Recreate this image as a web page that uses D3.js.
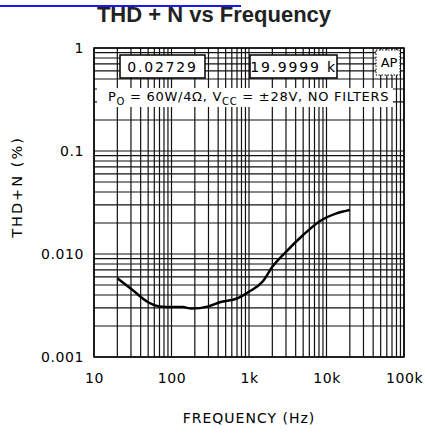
<!DOCTYPE html>
<html>
<head>
<meta charset="utf-8">
<script src="https://cdn.jsdelivr.net/npm/d3@7"></script>
<style>
  body { margin: 0; background: #fff; }
  svg { display: block; }
  text { font-family: "DejaVu Sans", sans-serif; fill: #000; }
</style>
</head>
<body>
<svg id="chart" width="425" height="434"></svg>
<script>
// curve
const freq = [20, 30, 50, 70, 100, 140, 180, 300, 420, 700, 1000, 1500, 2000, 3000, 5000, 8000, 13500, 20000];
const thdn = [0.0058, 0.0046, 0.0034, 0.0031, 0.00305, 0.00305, 0.00295, 0.0031, 0.0034, 0.0037, 0.0043, 0.0054, 0.0075, 0.0105, 0.0153, 0.0206, 0.0248, 0.0267];

const xTickValues = [10, 100, 1000, 10000, 100000];
const xTickLabels = ["10", "100", "1k", "10k", "100k"];
const yTickValues = [0.001, 0.01, 0.1, 1];
const yTickLabels = ["0.001", "0.010", "0.1", "1"];

const readings = ["0.02729", "19.9999 k"];

const svg = d3.select("#chart");

const x = d3.scaleLog().domain([10, 100000]).range([94, 404]);
const y = d3.scaleLog().domain([0.001, 1]).range([357, 48]);

// blue rule + title
svg.append("line")
    .attr("x1", 0).attr("x2", 241)
    .attr("y1", 6).attr("y2", 6)
    .attr("stroke", "#1a1aee").attr("stroke-width", 2);

svg.append("text")
    .attr("x", 214).attr("y", 22)
    .attr("text-anchor", "middle")
    .style("font-family", "'Liberation Sans', Arial, sans-serif")
    .style("font-weight", "bold")
    .style("font-size", "22px")
    .style("fill", "#222")
    .text("THD + N vs Frequency");

// grid
const grid = svg.append("g").attr("stroke", "#111").attr("stroke-width", 1.2);
grid.selectAll(".vx")
    .data(x.ticks())
    .enter().append("line")
    .attr("x1", d => x(d)).attr("x2", d => x(d))
    .attr("y1", y.range()[1]).attr("y2", y.range()[0]);
grid.selectAll(".hy")
    .data(y.ticks())
    .enter().append("line")
    .attr("x1", x.range()[0]).attr("x2", x.range()[1])
    .attr("y1", d => y(d)).attr("y2", d => y(d));

// white band with conditions text
svg.append("rect")
    .attr("x", 97).attr("y", 88).attr("width", 296).attr("height", 19)
    .attr("fill", "#fff");

const cond = svg.append("text")
    .attr("x", 108).attr("y", 101)
    .style("font-size", "13px")
    .style("letter-spacing", "0.72px");
cond.append("tspan").text("P");
cond.append("tspan").attr("dy", 4).style("font-size", "10px").text("O");
cond.append("tspan").attr("dy", -4).text(" = 60W/4\u03A9, V");
cond.append("tspan").attr("dy", 4).style("font-size", "10px").text("CC");
cond.append("tspan").attr("dy", -4).text(" = \u00B128V, NO FILTERS");

// reading boxes
const boxes = [[120, 205], [250, 337]];
boxes.forEach((b, i) => {
    svg.append("rect")
        .attr("x", b[0]).attr("y", 55).attr("width", b[1] - b[0]).attr("height", 23)
        .attr("fill", "#fff").attr("stroke", "#000").attr("stroke-width", 1.5);
    svg.append("text")
        .attr("x", (b[0] + b[1]) / 2).attr("y", 72)
        .attr("text-anchor", "middle")
        .style("font-size", "14px")
        .style("letter-spacing", "1.8px")
        .text(readings[i]);
});

// AP badge
svg.append("rect")
    .attr("x", 376).attr("y", 50).attr("width", 24).attr("height", 25)
    .attr("fill", "#fff").attr("stroke", "#000").attr("stroke-width", 1)
    .attr("stroke-dasharray", "1.5,1.5");
svg.append("text")
    .attr("x", 389).attr("y", 67)
    .attr("text-anchor", "middle")
    .style("font-size", "13px")
    .text("AP");

// frame
svg.append("rect")
    .attr("x", 94).attr("y", 48).attr("width", 310).attr("height", 309)
    .attr("fill", "none").attr("stroke", "#000").attr("stroke-width", 1.5);

// curve
const line = d3.line()
    .x(d => x(d[0]))
    .y(d => y(d[1]))
    .curve(d3.curveMonotoneX);
svg.append("path")
    .datum(freq.map((f, i) => [f, thdn[i]]))
    .attr("d", line)
    .attr("fill", "none")
    .attr("stroke", "#000")
    .attr("stroke-width", 2.5);

// axes
const xAxis = svg.append("g")
    .attr("transform", "translate(0,357)")
    .call(d3.axisBottom(x).tickValues(xTickValues).tickSize(0).tickPadding(16)
        .tickFormat((d, i) => xTickLabels[i]));
const yAxis = svg.append("g")
    .attr("transform", "translate(94,0)")
    .call(d3.axisLeft(y).tickValues(yTickValues).tickSize(0).tickPadding(10)
        .tickFormat((d, i) => yTickLabels[i]));
[xAxis, yAxis].forEach(a => {
    a.select(".domain").remove();
    a.selectAll("text")
        .style("font-family", "'DejaVu Sans', sans-serif")
        .style("font-size", "14px")
        .style("letter-spacing", "0.6px")
        .attr("fill", "#000");
});

// axis titles
svg.append("text")
    .attr("x", 249).attr("y", 423)
    .attr("text-anchor", "middle")
    .style("font-size", "14px")
    .style("letter-spacing", "1px")
    .text("FREQUENCY (Hz)");

svg.append("text")
    .attr("transform", "translate(22,187) rotate(-90)")
    .attr("text-anchor", "middle")
    .style("font-size", "14.5px")
    .style("letter-spacing", "2px")
    .text("THD+N (%)");
</script>
</body>
</html>
